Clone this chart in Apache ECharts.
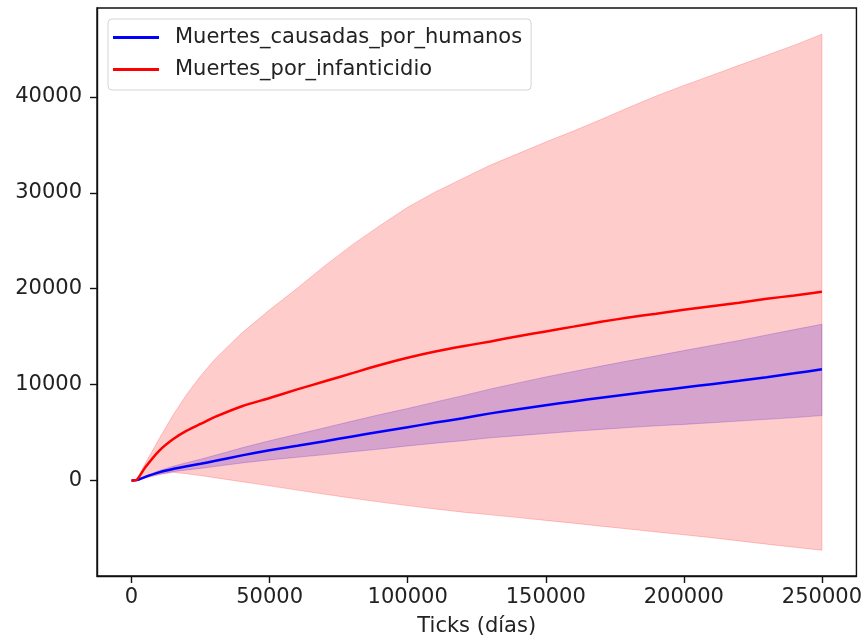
<!DOCTYPE html>
<html>
<head>
<meta charset="utf-8">
<title>Muertes</title>
<script src="https://cdn.jsdelivr.net/npm/echarts@6/dist/echarts.min.js"></script>
<style>
  html, body { margin: 0; padding: 0; background: #fff; }
  #chart { width: 865px; height: 642px; }
</style>
</head>
<body>
<div id="chart"></div>
<script>
// Simulation ticks (days)
const ticks = [0, 2000, 5000, 10000, 15000, 20000, 25000, 30000, 40000, 50000,
  60000, 70000, 80000, 90000, 100000, 110000, 120000, 130000, 140000, 150000,
  160000, 170000, 180000, 190000, 200000, 210000, 220000, 230000, 240000, 250000];

// Deaths caused by humans: mean and band limits
const humanosMedia = [0, 40, 380, 850, 1200, 1480, 1740, 2030, 2620, 3150,
  3620, 4100, 4600, 5080, 5560, 6040, 6500, 7000, 7430, 7850,
  8250, 8630, 9000, 9350, 9700, 10050, 10400, 10780, 11180, 11600];
const humanosAlto = [0, 60, 460, 1030, 1480, 1860, 2220, 2610, 3410, 4150,
  4820, 5500, 6200, 6880, 7510, 8190, 8850, 9550, 10180, 10800,
  11370, 11930, 12480, 13000, 13550, 14080, 14600, 15180, 15740, 16300];
const humanosBajo = [0, 20, 300, 670, 920, 1100, 1260, 1450, 1830, 2150,
  2420, 2700, 3000, 3280, 3610, 3890, 4150, 4450, 4680, 4900,
  5130, 5330, 5520, 5700, 5850, 6020, 6200, 6380, 6560, 6770];

// Deaths by infanticide: mean and band limits
const infanticidioMedia = [0, 100, 1380, 3100, 4300, 5200, 5900, 6600, 7750, 8600,
  9500, 10350, 11200, 12050, 12800, 13450, 14000, 14500, 15050, 15550,
  16050, 16550, 17000, 17400, 17800, 18180, 18550, 18950, 19300, 19680];
const infanticidioAlto = [0, 150, 1800, 4350, 6800, 9000, 10900, 12600, 15400, 17800,
  20050, 22400, 24600, 26600, 28500, 30100, 31500, 32900, 34100, 35300,
  36450, 37650, 38900, 40100, 41200, 42250, 43300, 44350, 45400, 46550];
const infanticidioBajo = [0, 0, 250, 600, 850, 700, 520, 300, -130, -560,
  -1000, -1430, -1850, -2250, -2620, -2970, -3300, -3580, -3870, -4160,
  -4450, -4760, -5060, -5360, -5660, -5960, -6300, -6640, -6960, -7270];

// Axis tick labels
const xTicks = [0, 50000, 100000, 150000, 200000, 250000];
const yTicks = [0, 10000, 20000, 30000, 40000];

const FONT = 'DejaVu Sans';
const TEXT = '#222';
const SIZE = 21;

function pairs(xs, ys) {
  return xs.map((x, i) => [x, ys[i]]);
}

// Filled band between two curves, drawn as one polygon
function band(name, low, high, fill, edge) {
  return {
    type: 'custom',
    name: name,
    coordinateSystem: 'cartesian2d',
    silent: true,
    clip: true,
    data: [[ticks[0], low[0]]],
    renderItem: function (params, api) {
      const top = ticks.map((x, i) => api.coord([x, high[i]]));
      const bottom = ticks.map((x, i) => api.coord([x, low[i]])).reverse();
      return {
        type: 'polygon',
        shape: { points: top.concat(bottom) },
        style: { fill: fill, stroke: edge, lineWidth: 1 }
      };
    }
  };
}

function line(name, ys, color) {
  return {
    type: 'line',
    name: name,
    data: pairs(ticks, ys),
    symbol: 'none',
    smooth: 0.2,
    color: color,
    lineStyle: { color: color, width: 2.5 },
    silent: true
  };
}

const plain = v => String(v);

const chart = echarts.init(document.getElementById('chart'), null, { renderer: 'canvas' });

chart.setOption({
  animation: false,
  backgroundColor: '#fff',
  textStyle: { fontFamily: FONT },
  grid: {
    left: 97, right: 6, top: 8, bottom: 64,
    show: true, borderColor: '#111', borderWidth: 1.4, backgroundColor: 'transparent'
  },
  legend: {
    orient: 'vertical',
    left: 108, top: 19,
    padding: [8, 9, 10, 5],
    itemWidth: 46, itemHeight: 3, itemGap: 11,
    backgroundColor: 'rgba(255,255,255,0.8)',
    borderColor: '#d4d4d4', borderWidth: 1, borderRadius: 4,
    selectedMode: false,
    textStyle: { fontFamily: FONT, fontSize: SIZE, color: TEXT, lineHeight: 21, padding: [0, 0, 0, 11] },
    data: [
      { name: 'Muertes_causadas_por_humanos', icon: 'rect' },
      { name: 'Muertes_por_infanticidio', icon: 'rect' }
    ]
  },
  xAxis: {
    type: 'value',
    min: -12500, max: 262500,
    name: 'Ticks (días)',
    nameLocation: 'middle',
    nameGap: 40,
    nameTextStyle: { fontFamily: FONT, fontSize: SIZE, color: TEXT },
    splitLine: { show: false },
    axisLine: { show: true, onZero: false, lineStyle: { color: '#111', width: 1.4 } },
    axisTick: { show: true, customValues: xTicks, length: 7, lineStyle: { color: '#111', width: 1.4 } },
    axisLabel: { customValues: xTicks, formatter: plain, margin: 11, fontFamily: FONT, fontSize: SIZE, color: TEXT }
  },
  yAxis: {
    type: 'value',
    min: -9960, max: 49280,
    splitLine: { show: false },
    axisLine: { show: true, onZero: false, lineStyle: { color: '#111', width: 1.4 } },
    axisTick: { show: true, customValues: yTicks, length: 7, lineStyle: { color: '#111', width: 1.4 } },
    axisLabel: { customValues: yTicks, formatter: plain, margin: 15, fontFamily: FONT, fontSize: SIZE, color: TEXT }
  },
  series: [
    line('Muertes_causadas_por_humanos', humanosMedia, '#0000ff'),
    band('banda_humanos', humanosBajo, humanosAlto, 'rgba(0,0,255,0.2)', 'rgba(0,0,255,0.2)'),
    line('Muertes_por_infanticidio', infanticidioMedia, '#ff0000'),
    band('banda_infanticidio', infanticidioBajo, infanticidioAlto, 'rgba(255,0,0,0.2)', 'rgba(255,0,0,0.2)')
  ]
});
</script>
</body>
</html>
